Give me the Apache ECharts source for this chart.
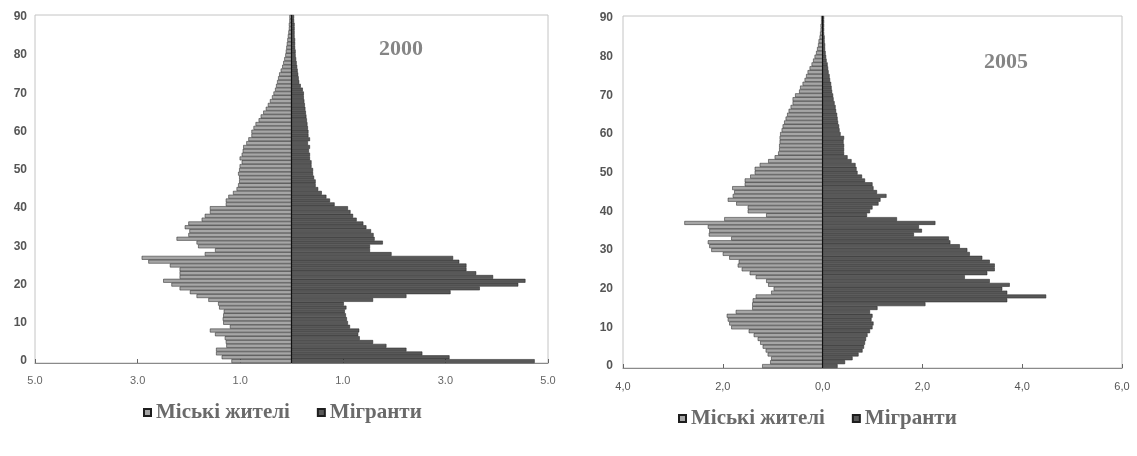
<!DOCTYPE html>
<html>
<head>
<meta charset="utf-8">
<script src="https://cdn.jsdelivr.net/npm/echarts@6/dist/echarts.min.js"></script>
<style>html,body{margin:0;padding:0;background:#fff;}#c{width:1137px;height:456px;}</style>
</head>
<body>
<div id="c"></div>
<script>
// Age categories (0..90)
const ages = ['0','1','2','3','4','5','6','7','8','9','10','11','12','13','14','15','16','17','18','19','20','21','22','23','24','25','26','27','28','29','30','31','32','33','34','35','36','37','38','39','40','41','42','43','44','45','46','47','48','49','50','51','52','53','54','55','56','57','58','59','60','61','62','63','64','65','66','67','68','69','70','71','72','73','74','75','76','77','78','79','80','81','82','83','84','85','86','87','88','89','90'];

const seriesNames = ['Міські жителі', 'Мігранти'];
const titles = ['2000', '2005'];

// 2000, % by single year of age
const urban2000 = [1.17,1.36,1.47,1.47,1.27,1.28,1.30,1.49,1.59,1.20,
  1.33,1.34,1.33,1.32,1.41,1.43,1.62,1.85,1.98,2.18,
  2.34,2.50,2.18,2.18,2.18,2.37,2.79,2.92,1.69,1.49,
  1.82,1.85,2.24,2.01,1.99,2.08,2.01,1.75,1.69,1.59,
  1.59,1.28,1.28,1.23,1.14,1.07,1.04,1.02,1.02,1.04,
  1.02,1.01,0.97,1.01,0.97,0.95,0.94,0.88,0.84,0.78,
  0.78,0.74,0.70,0.64,0.60,0.55,0.50,0.46,0.42,0.38,
  0.35,0.32,0.30,0.28,0.26,0.24,0.21,0.18,0.16,0.14,
  0.12,0.11,0.10,0.09,0.08,0.07,0.06,0.05,0.05,0.04,0.04];
const migrant2000 = [4.74,3.08,2.55,2.24,1.85,1.59,1.33,1.30,1.32,1.14,
  1.10,1.08,1.06,1.04,1.07,1.02,1.59,2.24,3.10,3.67,
  4.42,4.56,3.93,3.60,3.41,3.41,3.27,3.15,1.95,1.53,
  1.53,1.78,1.62,1.60,1.55,1.46,1.40,1.27,1.20,1.15,
  1.10,0.84,0.75,0.68,0.59,0.52,0.47,0.47,0.44,0.42,
  0.42,0.39,0.39,0.36,0.36,0.34,0.36,0.32,0.36,0.33,
  0.33,0.32,0.31,0.30,0.29,0.28,0.27,0.26,0.25,0.24,
  0.24,0.22,0.18,0.15,0.14,0.13,0.12,0.11,0.10,0.09,
  0.08,0.08,0.07,0.07,0.07,0.06,0.06,0.06,0.06,0.05,0.05];

// 2005
const urban2005 = [1.21,1.05,1.03,1.10,1.14,1.20,1.25,1.30,1.38,1.48,
  1.83,1.87,1.90,1.92,1.74,1.41,1.41,1.40,1.34,1.03,
  0.98,1.09,1.13,1.34,1.46,1.62,1.70,1.68,1.87,2.00,
  2.23,2.27,2.30,1.83,2.28,2.27,2.30,2.77,1.97,1.13,
  1.50,1.50,1.73,1.90,1.80,1.77,1.81,1.56,1.56,1.45,
  1.36,1.36,1.26,1.09,0.96,0.89,0.87,0.87,0.86,0.86,
  0.85,0.82,0.80,0.77,0.74,0.71,0.68,0.64,0.60,0.60,
  0.55,0.47,0.45,0.40,0.36,0.33,0.30,0.26,0.22,0.19,
  0.16,0.13,0.11,0.09,0.08,0.06,0.05,0.04,0.04,0.03,0.03];
const migrant2005 = [0.30,0.45,0.60,0.72,0.80,0.83,0.85,0.87,0.90,0.95,
  1.00,1.02,0.98,1.00,0.95,1.10,2.06,3.70,4.48,3.70,
  3.60,3.75,3.35,2.85,3.30,3.45,3.45,3.35,3.20,2.95,
  2.90,2.75,2.56,2.53,1.83,1.99,1.93,2.26,1.49,0.89,
  0.95,1.00,1.12,1.16,1.28,1.09,1.02,1.00,0.85,0.79,
  0.70,0.68,0.66,0.58,0.50,0.43,0.43,0.43,0.42,0.43,
  0.36,0.34,0.33,0.31,0.30,0.29,0.27,0.26,0.24,0.22,
  0.21,0.19,0.18,0.17,0.15,0.14,0.12,0.11,0.10,0.08,
  0.07,0.06,0.05,0.05,0.04,0.04,0.03,0.03,0.03,0.03,0.03];

const urbanStyle = {color:'#a6a6a6', borderColor:'#1e1e1e', borderWidth:0.5};
const migrantStyle = {color:'#585858', borderColor:'#1e1e1e', borderWidth:0.5};

function barSeries(name, data, idx, style, withLine) {
  const s = {
    name: name, type: 'bar', xAxisIndex: idx, yAxisIndex: idx,
    data: data, barCategoryGap: '0%', barGap: '-100%',
    itemStyle: style, silent: true, animation: false
  };
  if (withLine) {
    s.markLine = {
      silent: true, symbol: ['none','none'], label: {show:false},
      lineStyle: {color:'#111', width:1, type:'solid'},
      data: [{xAxis: 0}], animation: false
    };
  }
  return s;
}

const legendText = {fontFamily:'Liberation Serif', fontWeight:'bold', fontSize:21, color:'#6a6a6a'};
const yLabel = {interval: 9, fontFamily:'Liberation Sans', fontSize:12, fontWeight:'bold', color:'#555'};

const option = {
  animation: false,
  backgroundColor: '#fff',
  title: [
    {text: titles[0], left: 374, top: 33, textStyle:{fontFamily:'Liberation Serif', fontWeight:'bold', fontSize:22, color:'#858585'}},
    {text: titles[1], left: 979, top: 46, textStyle:{fontFamily:'Liberation Serif', fontWeight:'bold', fontSize:22, color:'#858585'}}
  ],
  legend: [
    {data: seriesNames, left: 138, top: 397, icon:'rect', itemWidth:7, itemHeight:7, itemGap:27, textStyle: legendText},
    {data: seriesNames, left: 673, top: 403, icon:'rect', itemWidth:7, itemHeight:7, itemGap:27, textStyle: legendText}
  ],
  grid: [
    {left: 35, right: 589, top: 15, bottom: 93, show: true, borderColor:'#c4c4c4', borderWidth:1},
    {left: 623, right: 15, top: 16, bottom: 88, show: true, borderColor:'#c4c4c4', borderWidth:1}
  ],
  xAxis: [
    {type:'value', gridIndex:0, min:-5, max:5, interval:2,
     splitLine:{show:false},
     axisLine:{show:true, lineStyle:{color:'#8a8a8a'}},
     axisTick:{show:true, inside:true, length:4, lineStyle:{color:'#666'}},
     axisLabel:{margin:12, fontFamily:'Liberation Sans', fontSize:11, color:'#666',
       formatter: v => Math.abs(v).toFixed(1)}},
    {type:'value', gridIndex:1, min:-4, max:6, interval:2,
     splitLine:{show:false},
     axisLine:{show:true, lineStyle:{color:'#8a8a8a'}},
     axisTick:{show:true, inside:true, length:4, lineStyle:{color:'#666'}},
     axisLabel:{margin:13, fontFamily:'Liberation Sans', fontSize:11, color:'#555',
       formatter: v => Math.abs(v).toFixed(1).replace('.', ',')}}
  ],
  yAxis: [
    {type:'category', gridIndex:0, data: ages, boundaryGap:true,
     axisLine:{show:true, lineStyle:{color:'#aaa'}}, axisTick:{show:false},
     axisLabel: Object.assign({margin:8}, yLabel)},
    {type:'category', gridIndex:1, data: ages, boundaryGap:true,
     axisLine:{show:true, lineStyle:{color:'#aaa'}}, axisTick:{show:false},
     axisLabel: Object.assign({margin:10}, yLabel)}
  ],
  series: [
    barSeries(seriesNames[0], urban2000.map(v => -v), 0, urbanStyle, false),
    barSeries(seriesNames[1], migrant2000, 0, migrantStyle, true),
    barSeries(seriesNames[0], urban2005.map(v => -v), 1, urbanStyle, false),
    barSeries(seriesNames[1], migrant2005, 1, migrantStyle, true)
  ]
};

const chart = echarts.init(document.getElementById('c'), null, {renderer:'canvas'});
chart.setOption(option);
</script>
</body>
</html>
